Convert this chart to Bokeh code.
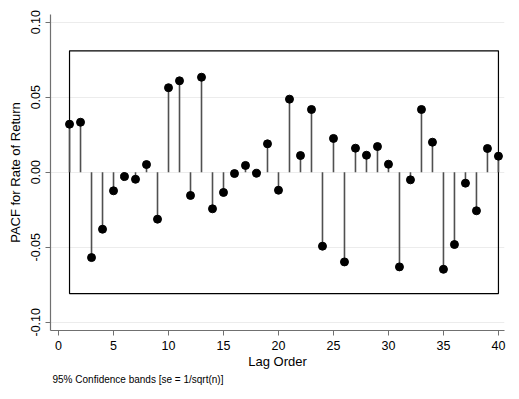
from bokeh.plotting import figure
from bokeh.models import Range1d, FixedTicker, Title, CustomJSTickFormatter
from bokeh.embed import file_html
from bokeh.resources import INLINE

lags = list(range(1, 41))
pacf = [0.0320, 0.0333, -0.0569, -0.0380, -0.0124, -0.0029, -0.0047, 0.0051,
        -0.0313, 0.0563, 0.0609, -0.0155, 0.0633, -0.0244, -0.0135, -0.0009,
        0.0045, -0.0007, 0.0189, -0.0120, 0.0487, 0.0111, 0.0418, -0.0493,
        0.0225, -0.0598, 0.0160, 0.0113, 0.0171, 0.0053, -0.0631, -0.0051,
        0.0418, 0.0200, -0.0647, -0.0482, -0.0073, -0.0257, 0.0158, 0.0107]
band_upper = 0.0809
band_lower = -0.0809
y_ticks = [-0.10, -0.05, 0.0, 0.05, 0.10]
x_ticks = [0, 5, 10, 15, 20, 25, 30, 35, 40]

FONT = "Liberation Sans"

p = figure(width=512, height=392, output_backend="svg", toolbar_location=None,
           x_range=Range1d(-0.73, 40.55), y_range=Range1d(-0.1055, 0.1051),
           min_border_left=50, min_border_right=8, min_border_top=14, min_border_bottom=62)
p.outline_line_color = None
p.background_fill_color = "white"
p.border_fill_color = "white"

# confidence band outline
p.patch([lags[0], lags[-1], lags[-1], lags[0]],
        [band_upper, band_upper, band_lower, band_lower],
        fill_alpha=0, line_color="black", line_width=1.2)

p.segment(x0=lags, y0=[0] * len(lags), x1=lags, y1=pacf,
          line_color="#505050", line_width=1.6)
p.scatter(lags, pacf, size=8, fill_color="black", line_color="black")

p.xgrid.visible = False
p.ygrid.ticker = FixedTicker(ticks=y_ticks)
p.ygrid.grid_line_color = "#ececec"
p.ygrid.grid_line_width = 1.2

p.yaxis.ticker = FixedTicker(ticks=y_ticks)
p.yaxis.formatter = CustomJSTickFormatter(code="return tick.toFixed(2);")
p.yaxis.major_label_orientation = "vertical"
p.xaxis.ticker = FixedTicker(ticks=x_ticks)
for ax in (p.xaxis[0], p.yaxis[0]):
    ax.axis_line_color = "#707070"
    ax.axis_line_width = 1.2
    ax.major_tick_line_color = "#707070"
    ax.major_tick_out = 5
    ax.major_tick_in = 0
    ax.minor_tick_line_color = None
    ax.major_label_text_font = FONT
    ax.major_label_text_font_size = "12.5px"
    ax.major_label_text_color = "black"
    ax.axis_label_text_font = FONT
    ax.axis_label_text_font_size = "13px"
    ax.axis_label_text_font_style = "normal"
    ax.axis_label_text_color = "black"
p.yaxis.axis_label = "PACF for Rate of Return"
p.xaxis.axis_label = "Lag Order"
p.xaxis.major_label_standoff = 5
p.xaxis.axis_label_standoff = 1
p.yaxis.axis_label_standoff = 6

note = Title(text="95% Confidence bands [se = 1/sqrt(n)]", align="left",
             text_font=FONT, text_font_size="10px", text_font_style="normal",
             text_color="black", offset=2, standoff=1)
p.add_layout(note, "below")

open("out.html", "w").write(file_html(p, INLINE))
